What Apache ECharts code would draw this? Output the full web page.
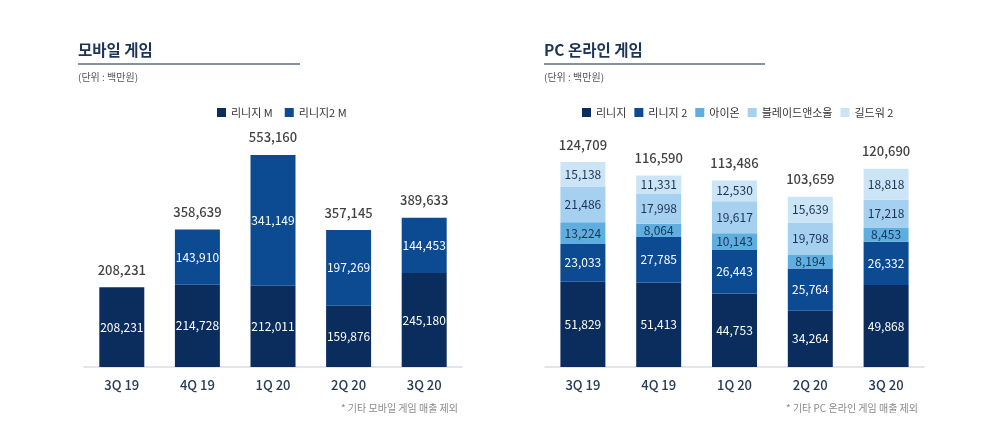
<!DOCTYPE html>
<html><head><meta charset="utf-8">
<script src="https://cdn.jsdelivr.net/npm/echarts@6/dist/echarts.min.js"></script>
<style>html,body{margin:0;padding:0;background:#fff}#c{width:1000px;height:433px}</style>
</head><body><div id="c"></div>
<script>
var categories = ['3Q 19','4Q 19','1Q 20','2Q 20','3Q 20'];
// Mobile games
var lineageM = [208231, 214728, 212011, 159876, 245180];
var lineage2M = [null, 143910, 341149, 197269, 144453];
var mobileTotal = [208231, 358639, 553160, 357145, 389633];
// PC online games
var lineage = [51829, 51413, 44753, 34264, 49868];
var lineage2 = [23033, 27785, 26443, 25764, 26332];
var aion = [13224, 8064, 10143, 8194, 8453];
var bns = [21486, 17998, 19617, 19798, 17218];
var gw2 = [15138, 11331, 12530, 15639, 18818];
var pcTotal = [124709, 116590, 113486, 103659, 120690];

var FONT = '"Noto Sans CJK KR", "Noto Sans", sans-serif';
var C1 = '#0b2d5d', C2 = '#0c4a91', C3 = '#5eaee0', C4 = '#a5d0ef', C5 = '#cbe5f7';
function fmt(v){ return v == null ? '' : v.toLocaleString('en-US'); }

var chart = echarts.init(document.getElementById('c'));
function barSeries(name, data, color, axis, labelColor){
  return {
    name: name, type: 'bar', stack: 's' + axis, xAxisIndex: axis, yAxisIndex: axis,
    data: data, barWidth: 45, itemStyle: {color: color},
    label: {show: true, position: 'inside', color: labelColor, fontSize: 12, fontFamily: FONT,
      formatter: function(p){ return fmt(p.value); }}
  };
}
function totalSeries(data, axis){
  return {
    type: 'scatter', xAxisIndex: axis, yAxisIndex: axis, data: data, symbolSize: 0, silent: true,
    label: {show: true, position: 'top', distance: 11, color: '#111', fontSize: 13, fontWeight: 500, fontFamily: FONT,
      formatter: function(p){ return fmt(p.value); }}
  };
}
var xAx = function(idx){ return {
  type: 'category', gridIndex: idx, data: categories,
  axisLine: {lineStyle: {color: '#d9dde2', width: 1.5}}, axisTick: {show: false},
  axisLabel: {color: '#263b58', fontSize: 13, fontWeight: 500, fontFamily: FONT, margin: 12}
};};
var yAx = function(idx, max){ return {
  type: 'value', gridIndex: idx, min: 0, max: max, show: false, splitLine: {show: false}
};};

chart.setOption({
  animation: false,
  textStyle: {fontFamily: FONT},
  grid: [
    {left: 84, right: 538, top: 137, bottom: 66},
    {left: 545, right: 76, top: 137, bottom: 66}
  ],
  legend: [
    {data: ['리니지 M','리니지2 M'], left: 212, top: 102, itemWidth: 9, itemHeight: 9, itemGap: 12,
      textStyle: {fontSize: 11, color: '#333', fontFamily: FONT}, icon: 'rect'},
    {data: ['리니지','리니지 2','아이온','블레이드앤소울','길드워 2'], left: 577, top: 102, itemWidth: 9, itemHeight: 9, itemGap: 8,
      textStyle: {fontSize: 11, color: '#333', fontFamily: FONT}, icon: 'rect'}
  ],
  xAxis: [xAx(0), xAx(1)],
  yAxis: [yAx(0, 600000), yAx(1, 140000)],
  series: [
    barSeries('리니지 M', lineageM, C1, 0, '#fff'),
    barSeries('리니지2 M', lineage2M, C2, 0, '#fff'),
    totalSeries(mobileTotal, 0),
    barSeries('리니지', lineage, C1, 1, '#fff'),
    barSeries('리니지 2', lineage2, C2, 1, '#fff'),
    barSeries('아이온', aion, C3, 1, '#1c3252'),
    barSeries('블레이드앤소울', bns, C4, 1, '#1c3252'),
    barSeries('길드워 2', gw2, C5, 1, '#1c3252'),
    totalSeries(pcTotal, 1)
  ],
  graphic: [
    {type: 'text', left: 78, top: 42, style: {text: '모바일 게임', font: '600 15.5px ' + FONT, fill: '#1d3456'}},
    {type: 'line', shape: {x1: 78, y1: 64, x2: 300, y2: 64}, style: {stroke: '#5b6e88', lineWidth: 1.5}},
    {type: 'text', left: 78, top: 72, style: {text: '(단위 : 백만원)', font: '10px ' + FONT, fill: '#555'}},
    {type: 'text', left: 544, top: 42, style: {text: 'PC 온라인 게임', font: '600 15.5px ' + FONT, fill: '#1d3456'}},
    {type: 'line', shape: {x1: 544, y1: 64, x2: 765, y2: 64}, style: {stroke: '#5b6e88', lineWidth: 1.5}},
    {type: 'text', left: 544, top: 72, style: {text: '(단위 : 백만원)', font: '10px ' + FONT, fill: '#555'}},
    {type: 'text', right: 542, top: 403, style: {text: '* 기타 모바일 게임 매출 제외', font: '10px ' + FONT, fill: '#8a8a8a'}},
    {type: 'text', right: 82, top: 403, style: {text: '* 기타 PC 온라인 게임 매출 제외', font: '10px ' + FONT, fill: '#8a8a8a'}}
  ]
});
</script></body></html>
